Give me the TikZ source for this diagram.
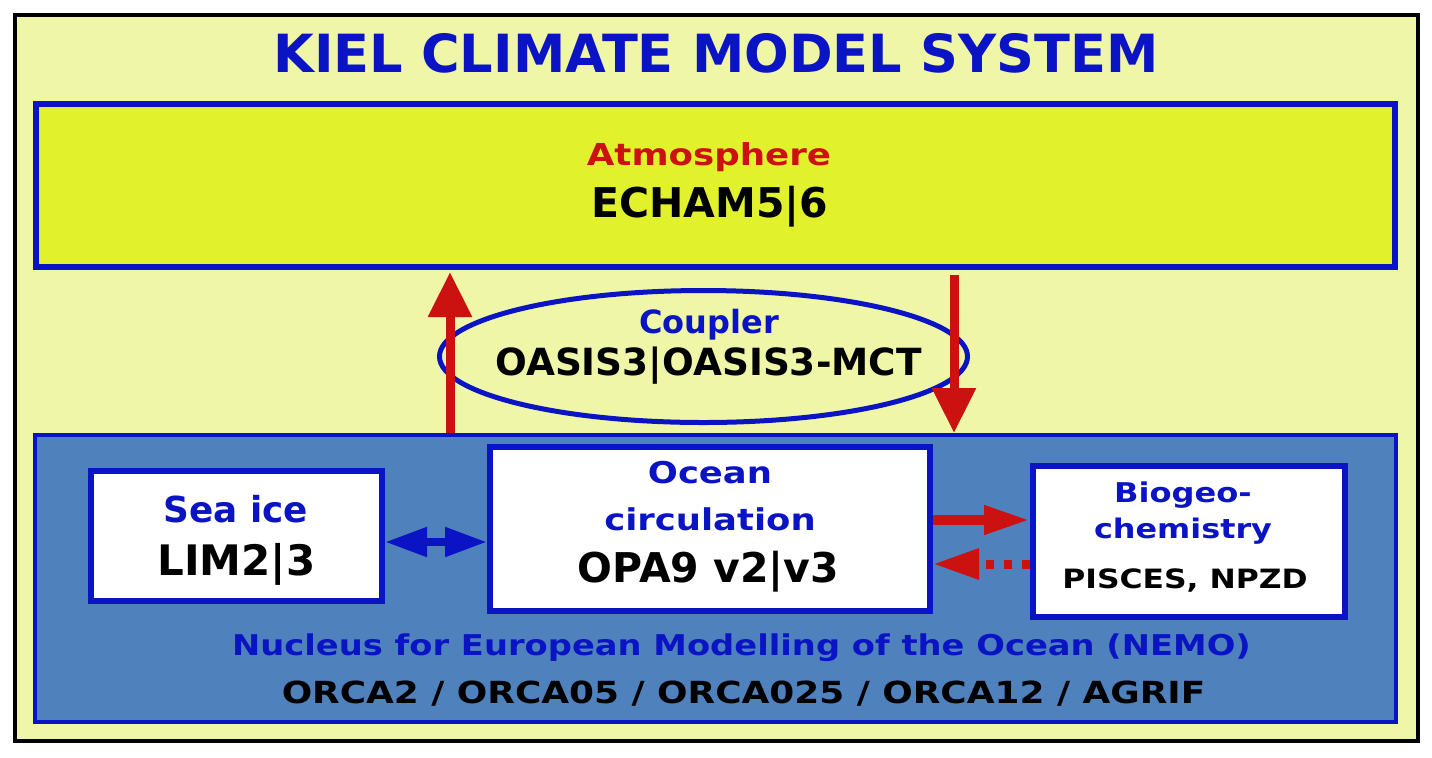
\documentclass[tikz,border=0pt]{standalone}
\usepackage{fontspec}
\setmainfont{DejaVu Sans}
\newfontfamily\kcmwide{DejaVu Sans}[FakeStretch=1.18]
\usetikzlibrary{arrows.meta,shapes.geometric}
\definecolor{kcmback}{HTML}{EFF6A8}
\definecolor{kcmatm}{HTML}{E1F22C}
\definecolor{kcmblue}{HTML}{0B14C4}
\definecolor{kcmred}{HTML}{CC1111}
\definecolor{kcmocean}{HTML}{4F81BD}
\def\fs#1{\fontsize{#1}{#1}\selectfont\bfseries}
\def\fw#1{\kcmwide\fontsize{#1}{#1}\selectfont\bfseries}

\begin{document}
\begin{tikzpicture}[x=0.5pt,y=-0.5pt,
    box/.style={draw=kcmblue,line width=3pt,fill=white,inner sep=0pt},
    lbl/.style={anchor=base,inner sep=0pt},
    vred/.style={kcmred,line width=4.5pt,-{Triangle[width=21pt,length=22.5pt]}},
    hred/.style={kcmred,line width=5pt,-{Triangle[width=13.5pt,length=23pt]}},
    hblue/.style={kcmblue,line width=4pt,{Triangle[width=14pt,length=21pt]}-{Triangle[width=14pt,length=21pt]}}]
    %%%%% START %%%%%
    \useasboundingbox (0,0) rectangle (1432,757);
    \fill[white] (0,0) rectangle (1432,757);
    \draw[fill=kcmback,line width=2pt] (15,15) rectangle (1418,741);
    
    \node[lbl,text=kcmblue,font=\fs{26.3}] (title) at (716,72) {KIEL CLIMATE MODEL SYSTEM};
    
    \node[box,fill=kcmatm,minimum width=679.5pt,minimum height=81.5pt] (atm) at (715.5,185.5) {};
    \node[lbl,text=kcmred,font=\fw{15.1}] (atmname) at (709,165) {Atmosphere};
    \node[lbl,font=\fs{20.5}] (atmmodel) at (710,217) {ECHAM5|6};
    
    \node[draw=kcmblue,line width=2.5pt,ellipse,minimum width=264pt,minimum height=66pt] (cpl) at (703.5,356.5) {};
    \node[lbl,text=kcmblue,font=\fs{16}] (cplname) at (709,333) {Coupler};
    \node[lbl,font=\fs{18.7}] (cplmodel) at (708.5,375) {OASIS3|OASIS3-MCT};
    
    \node[box,fill=kcmocean,line width=2pt,minimum width=680.5pt,minimum height=143.5pt] (nemo) at (715.5,578.5) {};
    \node[lbl,text=kcmblue,font=\fw{14.3}] (nemoname) at (741.5,655) {Nucleus for European Modelling of the Ocean (NEMO)};
    \node[lbl,font=\fw{15.2}] (nemogrid) at (743.5,703) {ORCA2 / ORCA05 / ORCA025 / ORCA12 / AGRIF};
    
    \node[box,minimum width=145.5pt,minimum height=65pt] (ice) at (236.5,536) {};
    \node[lbl,text=kcmblue,font=\fs{17.9}] (icename) at (236,522) {Sea ice};
    \node[lbl,font=\fs{21}] (icemodel) at (236.5,575) {LIM2|3};
    
    \node[box,minimum width=220pt,minimum height=82pt] (ocean) at (710,529) {};
    \node[lbl,text=kcmblue,font=\fw{15}] (oceanname) at (710,483) {Ocean};
    \node[lbl,text=kcmblue,font=\fw{15}] (oceanname2) at (710,530) {circulation};
    \node[lbl,font=\fs{20.5}] (oceanmodel) at (708.5,582) {OPA9 v2|v3};
    
    \node[box,minimum width=156pt,minimum height=75.5pt] (bio) at (1189,541.5) {};
    \node[lbl,text=kcmblue,font=\fw{13.6}] (bioname) at (1183,502) {Biogeo-};
    \node[lbl,text=kcmblue,font=\fw{13.5}] (bioname2) at (1183,538) {chemistry};
    \node[lbl,font=\fw{13.3}] (biomodel) at (1185,588) {PISCES, NPZD};
    
    % coupling arrows
    \coordinate (upx) at (450,0);
    \coordinate (downx) at (954,0);
    \draw[vred,shorten >=1pt] (nemo.north -| upx) -- (atm.south -| upx);
    \draw[vred,shorten <=2.5pt] (atm.south -| downx) -- (nemo.north -| downx);
    
    % inside NEMO
    \coordinate (fwd) at (0,520);
    \coordinate (back) at (0,564);
    \coordinate (both) at (0,542);
    \draw[hblue] (ice.east |- both) -- (ocean.west |- both);
    \draw[hred] (ocean.east |- fwd) -- (bio.west |- fwd);
    \draw[hred,line width=4.5pt,dash pattern=on 4pt off 5pt,-{Triangle[width=14.5pt,length=23pt]}] (bio.west |- back) -- (ocean.east |- back);
    %%%%% END %%%%%
\end{tikzpicture}
\end{document}
